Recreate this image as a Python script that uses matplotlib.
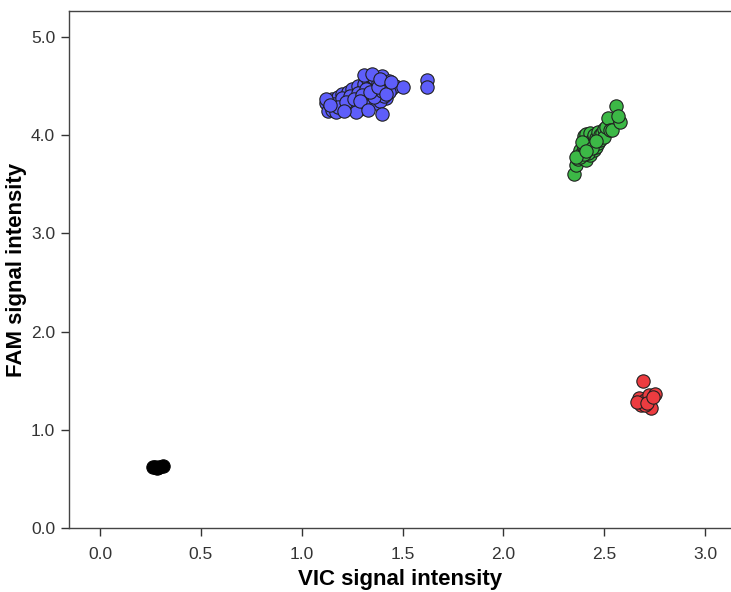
import matplotlib
matplotlib.use("Agg")
import matplotlib.pyplot as plt

# --- data (VIC, FAM) per genotype cluster ---
blue_x = [1.12, 1.13, 1.14, 1.15, 1.16, 1.17, 1.18, 1.19, 1.20, 1.21, 1.22, 1.23, 1.24, 1.25,
          1.26, 1.27, 1.28, 1.29, 1.30, 1.31, 1.32, 1.33, 1.34, 1.35, 1.36, 1.37, 1.38, 1.39,
          1.40, 1.41, 1.42, 1.43, 1.44, 1.46, 1.13, 1.15, 1.17, 1.19, 1.21, 1.23, 1.25, 1.27,
          1.29, 1.31, 1.33, 1.35, 1.37, 1.39, 1.41, 1.43, 1.16, 1.20, 1.24, 1.28, 1.32, 1.36,
          1.40, 1.18, 1.22, 1.26, 1.30, 1.34, 1.38, 1.42, 1.12, 1.14, 1.27, 1.31, 1.35, 1.39,
          1.40, 1.21, 1.62, 1.62, 1.50, 1.44, 1.29, 1.33]
blue_y = [4.33, 4.36, 4.30, 4.37, 4.28, 4.34, 4.39, 4.31, 4.42, 4.36, 4.27, 4.44, 4.38, 4.47,
          4.33, 4.41, 4.50, 4.37, 4.45, 4.52, 4.40, 4.56, 4.48, 4.43, 4.58, 4.46, 4.53, 4.41,
          4.60, 4.49, 4.38, 4.55, 4.47, 4.50, 4.25, 4.26, 4.24, 4.32, 4.29, 4.35, 4.28, 4.31,
          4.27, 4.34, 4.30, 4.36, 4.33, 4.35, 4.40, 4.44, 4.32, 4.38, 4.40, 4.43, 4.47, 4.39,
          4.45, 4.29, 4.34, 4.37, 4.41, 4.44, 4.49, 4.42, 4.37, 4.31, 4.24, 4.61, 4.62, 4.57,
          4.22, 4.25, 4.56, 4.49, 4.49, 4.54, 4.35, 4.26]

green_x = [2.35, 2.36, 2.37, 2.37, 2.38, 2.39, 2.40, 2.40, 2.41, 2.41, 2.42, 2.42, 2.43, 2.43,
           2.44, 2.44, 2.45, 2.45, 2.46, 2.46, 2.47, 2.47, 2.48, 2.48, 2.49, 2.50, 2.50, 2.51,
           2.52, 2.53, 2.54, 2.56, 2.58, 2.57, 2.39, 2.42, 2.44, 2.38, 2.40, 2.46, 2.36, 2.41]
green_y = [3.60, 3.70, 3.80, 3.76, 3.85, 3.82, 3.99, 3.88, 4.01, 3.75, 3.92, 3.86, 4.02, 3.80,
           3.95, 3.90, 4.00, 3.85, 3.97, 3.88, 4.03, 3.92, 4.00, 3.95, 4.02, 4.06, 3.98, 4.08,
           4.18, 4.05, 4.05, 4.30, 4.13, 4.20, 3.93, 3.82, 3.87, 3.78, 3.81, 3.94, 3.78, 3.84]

red_x = [2.69, 2.67, 2.70, 2.72, 2.75, 2.73, 2.68, 2.70, 2.66, 2.71, 2.74]
red_y = [1.50, 1.32, 1.30, 1.35, 1.36, 1.22, 1.25, 1.25, 1.28, 1.27, 1.33]

black_x = [0.27, 0.28, 0.31, 0.29, 0.26]
black_y = [0.62, 0.61, 0.63, 0.62, 0.62]

xticks = [0.0, 0.5, 1.0, 1.5, 2.0, 2.5, 3.0]
yticks = [0.0, 1.0, 2.0, 3.0, 4.0, 5.0]

plt.rcParams['font.family'] = ['Liberation Sans', 'DejaVu Sans']

fig = plt.figure(figsize=(7.31, 5.92), dpi=100)
ax = fig.add_axes([69/731, 64/592, (731-69)/731, (528-11)/592])

ms = 92
ec = '#202020'
ax.scatter(black_x, black_y, s=ms, c='black', edgecolors='black', linewidths=0.8, zorder=3)
ax.scatter(blue_x, blue_y, s=ms, c='#5e5efa', edgecolors=ec, linewidths=0.8, zorder=3)
ax.scatter(green_x, green_y, s=ms, c='#3cb846', edgecolors=ec, linewidths=0.8, zorder=3)
ax.scatter(red_x, red_y, s=ms, c='#ec3c40', edgecolors=ec, linewidths=0.8, zorder=3)

ax.set_xlim(-0.154, 3.128)
ax.set_ylim(0, 5.265)
ax.set_xticks(xticks)
ax.set_xticklabels([f"{t:.1f}" for t in xticks])
ax.set_yticks(yticks)
ax.set_yticklabels([f"{t:.1f}" for t in yticks])

ax.spines['right'].set_visible(False)
for s in ['left', 'bottom', 'top']:
    ax.spines[s].set_color('#444444')
    ax.spines[s].set_linewidth(1.0)

ax.tick_params(axis='both', direction='out', length=6, width=1.0, color='#333333',
               labelsize=12.5, labelcolor='#333333', pad=4)
ax.tick_params(axis='x', pad=8)

ax.set_xlabel('VIC signal intensity', fontsize=16, fontweight='bold', labelpad=5)
ax.set_ylabel('FAM signal intensity', fontsize=16, fontweight='bold')
ax.yaxis.set_label_coords(-0.063, 0.5)

fig.savefig('out.png', dpi=100)
